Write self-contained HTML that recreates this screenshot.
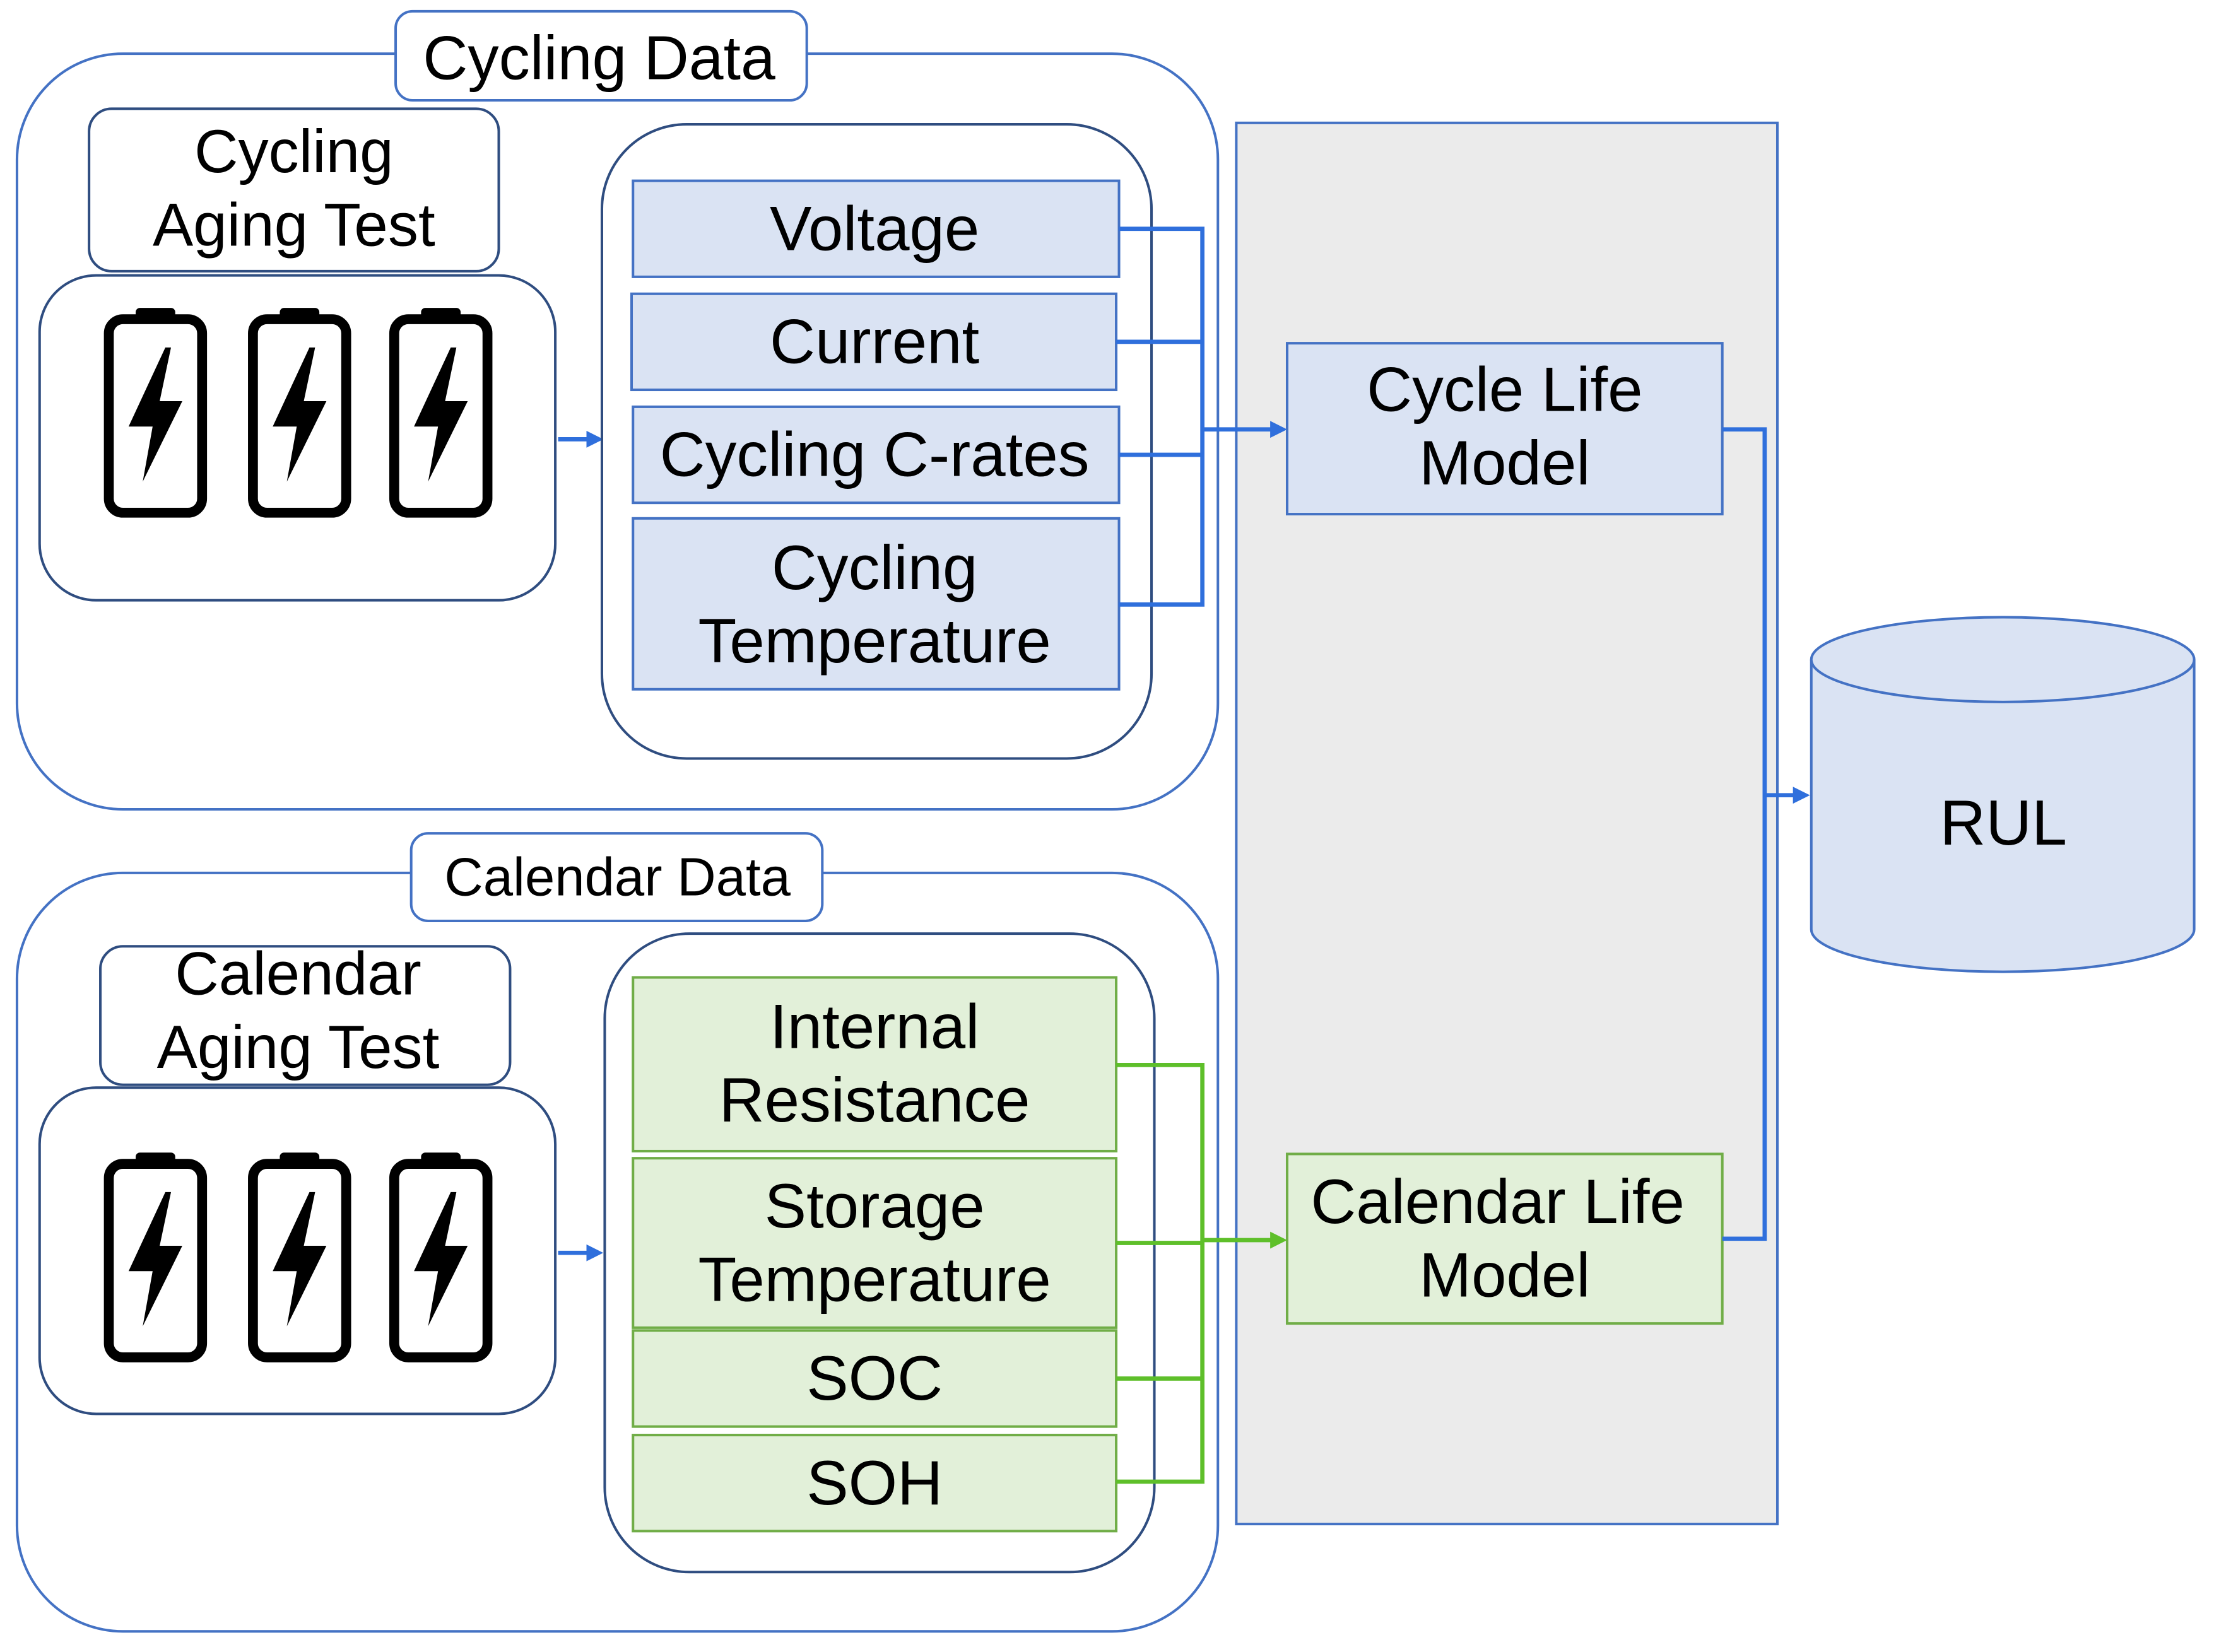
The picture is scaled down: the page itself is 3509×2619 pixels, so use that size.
<!DOCTYPE html>
<html><head><meta charset="utf-8"><style>
html,body{margin:0;padding:0;background:#fff;}
svg{display:block;}
text{font-family:"Liberation Sans",Arial,sans-serif;fill:#000;text-anchor:middle;}
</style></head><body>
<svg width="3509" height="2619" viewBox="0 0 1567 1169.6" xmlns="http://www.w3.org/2000/svg">
<defs>
<marker id="ab" markerWidth="12" markerHeight="12" refX="9" refY="6" orient="auto" markerUnits="userSpaceOnUse"><path d="M0,0 L12,6 L0,12 z" fill="#2f6fdc"/></marker>
<marker id="ag" markerWidth="12" markerHeight="12" refX="9" refY="6" orient="auto" markerUnits="userSpaceOnUse"><path d="M0,0 L12,6 L0,12 z" fill="#5ebf2a"/></marker>
<g id="bat">
<rect x="4" y="10" width="66" height="137" rx="10" fill="none" stroke="#000" stroke-width="7"/>
<rect x="23" y="2" width="28" height="10" rx="3" fill="#000"/>
<path d="M44,30 L18,86 L35,86 L28,125 L56,68 L40,68 L48,30 z" fill="#000"/>
</g>
</defs>
<rect x="875" y="87" width="383" height="992" fill="#ebebeb" stroke="#4472c4" stroke-width="1.8"/>

<rect x="12" y="38" width="850" height="535" rx="75" fill="none" stroke="#4472c4" stroke-width="1.8"/>
<rect x="280" y="8" width="291" height="63" rx="12" fill="#fff" stroke="#4472c4" stroke-width="1.8"/>
<text x="424" y="56" font-size="44">Cycling Data</text>
<rect x="63" y="77" width="290" height="115" rx="16" fill="#fff" stroke="#2f4d80" stroke-width="1.8"/>
<text x="208" y="122" font-size="43">Cycling</text>
<text x="208" y="174" font-size="43">Aging Test</text>
<rect x="28" y="195" width="365" height="230" rx="40" fill="#fff" stroke="#2f4d80" stroke-width="1.8"/>
<use href="#bat" x="73" y="216"/><use href="#bat" x="175" y="216"/><use href="#bat" x="275" y="216"/>
<line x1="395" y1="311" x2="424" y2="311" stroke="#2f6fdc" stroke-width="3" marker-end="url(#ab)"/>
<rect x="426" y="88" width="389" height="449" rx="60" fill="#fff" stroke="#2f4d80" stroke-width="1.8"/>
<g fill="#dae3f3" stroke="#4472c4" stroke-width="1.8">
<rect x="448" y="128" width="344" height="68"/>
<rect x="447" y="208" width="343" height="68"/>
<rect x="448" y="288" width="344" height="68"/>
<rect x="448" y="367" width="344" height="121"/>
</g>
<text x="619" y="177" font-size="44.5">Voltage</text>
<text x="619" y="257" font-size="44.5">Current</text>
<text x="619" y="337" font-size="44.5">Cycling C-rates</text>
<text x="619" y="417" font-size="44.5">Cycling</text>
<text x="619" y="469" font-size="44.5">Temperature</text>
<g stroke="#2f6fdc" stroke-width="3" fill="none">
<path d="M792,162 H851 V428 H792"/>
<path d="M790,242 H851"/><path d="M792,322 H851"/>
<line x1="851" y1="304" x2="908" y2="304" marker-end="url(#ab)"/>
</g>

<rect x="911" y="243" width="308" height="121" fill="#dae3f3" stroke="#4472c4" stroke-width="1.8"/>
<text x="1065" y="291" font-size="44.5">Cycle Life</text>
<text x="1065" y="343" font-size="44.5">Model</text>
<rect x="911" y="817" width="308" height="120" fill="#e2f0d9" stroke="#70ad47" stroke-width="1.8"/>
<text x="1060" y="866" font-size="44.5">Calendar Life</text>
<text x="1065" y="918" font-size="44.5">Model</text>
<g stroke="#2f6fdc" stroke-width="3" fill="none">
<path d="M1219,304 H1249 V877 H1219"/>
<line x1="1249" y1="563" x2="1278" y2="563" marker-end="url(#ab)"/>
</g>

<path d="M1282,467 V658 A135.5,30 0 0 0 1553,658 V467" fill="#dae3f3" stroke="#4472c4" stroke-width="1.8"/>
<ellipse cx="1417.5" cy="467" rx="135.5" ry="30" fill="#dae3f3" stroke="#4472c4" stroke-width="1.8"/>
<text x="1418" y="598" font-size="45">RUL</text>

<rect x="12" y="618" width="850" height="537" rx="75" fill="none" stroke="#4472c4" stroke-width="1.8"/>
<rect x="291" y="590" width="291" height="62" rx="12" fill="#fff" stroke="#4472c4" stroke-width="1.8"/>
<text x="437" y="634" font-size="38">Calendar Data</text>
<rect x="71" y="670" width="290" height="98" rx="16" fill="#fff" stroke="#2f4d80" stroke-width="1.8"/>
<text x="211" y="704" font-size="43">Calendar</text>
<text x="211" y="756" font-size="43">Aging Test</text>
<rect x="28" y="770" width="365" height="231" rx="40" fill="#fff" stroke="#2f4d80" stroke-width="1.8"/>
<use href="#bat" x="73" y="814"/><use href="#bat" x="175" y="814"/><use href="#bat" x="275" y="814"/>
<line x1="395" y1="887" x2="424" y2="887" stroke="#2f6fdc" stroke-width="3" marker-end="url(#ab)"/>
<rect x="428" y="661" width="389" height="452" rx="60" fill="#fff" stroke="#2f4d80" stroke-width="1.8"/>
<g fill="#e2f0d9" stroke="#70ad47" stroke-width="1.8">
<rect x="448" y="692" width="342" height="123"/>
<rect x="448" y="820" width="342" height="120"/>
<rect x="448" y="942" width="342" height="68"/>
<rect x="448" y="1016" width="342" height="68"/>
</g>
<text x="619" y="742" font-size="44.5">Internal</text>
<text x="619" y="794" font-size="44.5">Resistance</text>
<text x="619" y="869" font-size="44.5">Storage</text>
<text x="619" y="921" font-size="44.5">Temperature</text>
<text x="619" y="991" font-size="44.5">SOC</text>
<text x="619" y="1065" font-size="44.5">SOH</text>
<g stroke="#5ebf2a" stroke-width="3" fill="none">
<path d="M790,754 H851 V1049 H790"/>
<path d="M790,880 H851"/><path d="M790,976 H851"/>
<line x1="851" y1="878" x2="908" y2="878" marker-end="url(#ag)"/>
</g>
</svg>
</body></html>
